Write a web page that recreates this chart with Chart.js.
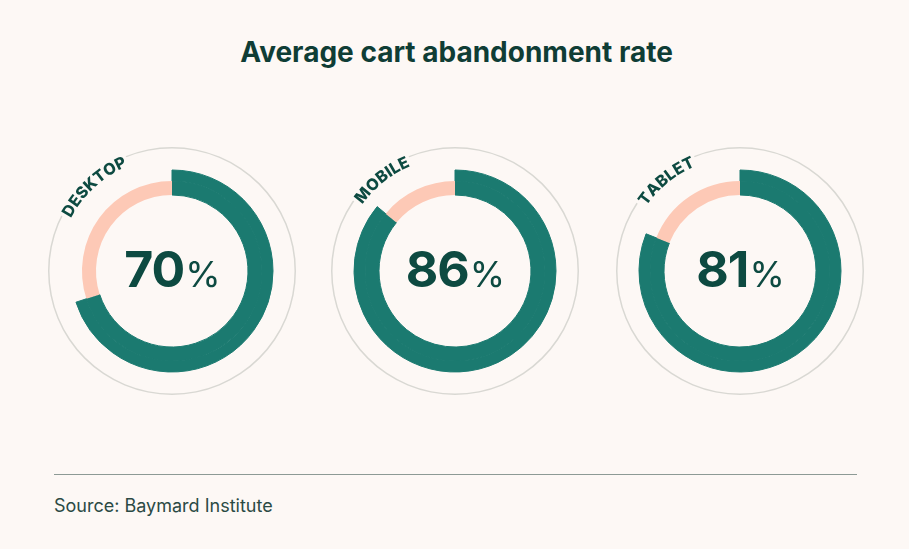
<!DOCTYPE html>
<html>
<head>
<meta charset="utf-8">
<script src="https://cdn.jsdelivr.net/npm/chart.js@4.4.1/dist/chart.umd.min.js"></script>
<style>
  body { margin: 0; background: #fdf8f5; width: 909px; height: 549px; overflow: hidden; position: relative; font-family: Inter, "Noto Sans", sans-serif; }
  h1 { position: absolute; left: 0; width: 913px; top: 38px; margin: 0; text-align: center; font-size: 28px; line-height: 28px; font-weight: 700; color: #0f3d35; letter-spacing: 0; }
  .donut { position: absolute; top: 141px; }
  #rule { position: absolute; left: 54px; top: 474px; width: 803px; border-top: 1.5px solid #8d9a95; }
  #source { position: absolute; left: 54px; top: 497px; font-size: 18px; line-height: 18px; color: #2b4a44; }
</style>
</head>
<body>
<h1>Average cart abandonment rate</h1>
<canvas class="donut" id="d0" width="260" height="260" style="left:42px"></canvas>
<canvas class="donut" id="d1" width="260" height="260" style="left:325px"></canvas>
<canvas class="donut" id="d2" width="260" height="260" style="left:610px"></canvas>
<div id="rule"></div>
<div id="source">Source: Baymard Institute</div>
<script>
const devices = ['DESKTOP', 'MOBILE', 'TABLET'];
const abandonRates = [70, 86, 81];

const TEAL = '#1b7a70';
const PINK = '#fdc9b6';
const INK = '#0d4a41';
const BG = '#fdf8f5';
const NONE = 'rgba(0,0,0,0)';

// device name written along the frame, ending just left of 12 o'clock
function arcLabel(label, rate) {
    return {
        id: 'arcLabel',
        afterDraw(chart) {
            const frame = chart.getDatasetMeta(0).data[0];
            const { x, y, outerRadius } = frame;
            const ctx = chart.ctx;
            ctx.save();

            ctx.font = '800 16px Inter';
            const gap = 0.2;
            const r = outerRadius - 10;
            const widths = [...label].map(c => ctx.measureText(c).width + gap);
            const total = widths.reduce((a, b) => a + b, 0) - gap;
            const end = (337 - 90) * Math.PI / 180;
            let a = end - total / r;
            const spots = [];
            [...label].forEach((c, i) => {
                const mid = a + (widths[i] - gap) / 2 / r;
                spots.push({ c, mid });
                a += widths[i] / r;
            });
            ctx.textAlign = 'center';
            ctx.textBaseline = 'alphabetic';
            ['stroke', 'fill'].forEach(pass => {
                spots.forEach(({ c, mid }) => {
                    ctx.save();
                    ctx.translate(x + r * Math.cos(mid), y + r * Math.sin(mid));
                    ctx.rotate(mid + Math.PI / 2);
                    if (pass === 'stroke') {
                        ctx.strokeStyle = BG;
                        ctx.lineWidth = 7;
                        ctx.lineJoin = 'round';
                        ctx.strokeText(c, 0, 0);
                    } else {
                        ctx.fillStyle = INK;
                        ctx.fillText(c, 0, 0);
                    }
                    ctx.restore();
                });
            });

            // big percentage in the middle
            const num = String(rate);
            ctx.textAlign = 'left';
            ctx.fillStyle = INK;
            ctx.font = '700 50px Inter';
            ctx.letterSpacing = '-1px';
            const w1 = ctx.measureText(num).width;
            ctx.font = '400 36px Inter';
            ctx.letterSpacing = '0px';
            const w2 = ctx.measureText('%').width;
            const left = x - (w1 + w2) / 2;
            ctx.font = '700 50px Inter';
            ctx.letterSpacing = '-1px';
            ctx.fillText(num, left, y + 16);
            ctx.font = '400 36px Inter';
            ctx.letterSpacing = '0px';
            ctx.fillText('%', left + w1 + 1, y + 16);
            ctx.restore();
        }
    };
}

devices.forEach((device, i) => {
    const rate = abandonRates[i];
    const rest = 100 - rate;
    new Chart(document.getElementById('d' + i), {
        type: 'doughnut',
        data: {
            labels: ['Abandoned', 'Completed'],
            datasets: [
                // thin frame circle
                { data: [100], backgroundColor: ['#d9d8d3'], borderWidth: 0, weight: 1.5 },
                // empty space between frame and ring
                { data: [100], backgroundColor: [NONE], borderWidth: 0, weight: 21.5 },
                // outer band: only the abandoned share is wide
                { data: [rate, rest], backgroundColor: [TEAL, NONE], borderColor: [TEAL, NONE], borderWidth: [1, 0], weight: 11 },
                // inner band: abandoned + completed
                { data: [rate, rest], backgroundColor: [TEAL, PINK], borderColor: [TEAL, PINK], borderWidth: [1, 0], weight: 14 }
            ]
        },
        options: {
            responsive: false,
            animation: false,
            events: [],
            cutout: 76,
            layout: { padding: 6 },
            plugins: {
                legend: { display: false },
                tooltip: { enabled: false }
            }
        },
        plugins: [arcLabel(device, rate)]
    });
});
</script>
</body>
</html>
